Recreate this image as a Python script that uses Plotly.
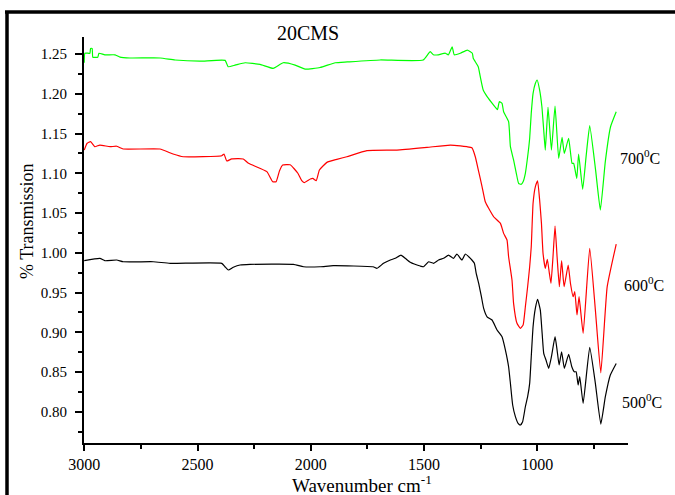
import plotly.graph_objects as go

# 700 C (green)
wn_700 = [3000, 2997, 2975, 2972, 2965, 2962, 2940, 2935, 2909, 2864, 2842, 2798, 2665, 2599, 2489,
          2378, 2365, 2334, 2290, 2224, 2166, 2122, 2069, 2025, 1959, 1892, 1839, 1694, 1504, 1473,
          1459, 1437, 1406, 1393, 1376, 1367, 1340, 1309, 1287, 1283, 1261, 1252, 1239, 1221, 1194,
          1176, 1168, 1156, 1149, 1127, 1119, 1105, 1093, 1083, 1072, 1063, 1053, 1043, 1034, 1027,
          1019, 1009, 1001, 990, 980, 972, 965, 953, 938, 922, 906, 891, 881, 862, 847, 840,
          826, 818, 800, 785, 769, 743, 722, 700, 677, 652]
t_700 = [1.239, 1.251, 1.251, 1.257, 1.257, 1.246, 1.246, 1.251, 1.249, 1.249, 1.246, 1.245, 1.245, 1.2425, 1.241,
         1.242, 1.234, 1.236, 1.239, 1.237, 1.232, 1.239, 1.236, 1.231, 1.233, 1.239, 1.240, 1.2425, 1.2425, 1.253,
         1.249, 1.249, 1.251, 1.249, 1.259, 1.249, 1.251, 1.255, 1.251, 1.2446, 1.234, 1.2215, 1.2047, 1.196, 1.186,
         1.180, 1.190, 1.188, 1.1774, 1.165, 1.1334, 1.1167, 1.100, 1.0874, 1.086, 1.0894, 1.100, 1.1207, 1.144, 1.1754,
         1.2006, 1.213, 1.2173, 1.2047, 1.1837, 1.1544, 1.1292, 1.183, 1.1292, 1.1846, 1.1188, 1.1452, 1.1251, 1.144, 1.1125, 1.1125,
         1.0936, 1.1242, 1.0798, 1.121, 1.1598, 1.104, 1.0537, 1.115, 1.1585, 1.1774]

# 600 C (red)
wn_600 = [3000, 2987, 2972, 2953, 2931, 2886, 2857, 2828, 2666, 2608, 2563, 2393, 2383, 2371, 2349,
          2298, 2275, 2194, 2168, 2153, 2138, 2124, 2091, 2057, 2040, 2029, 2002, 1991, 1976, 1962,
          1929, 1885, 1841, 1752, 1620, 1487, 1384, 1340, 1311, 1289, 1274, 1259, 1244, 1230, 1215,
          1193, 1163, 1149, 1134, 1127, 1112, 1105, 1090, 1075, 1063, 1053, 1043, 1034, 1027, 1019,
          1009, 999, 990, 982, 975, 965, 956, 947, 940, 931, 922, 913, 903, 893, 882,
          864, 854, 842, 835, 825, 816, 798, 769, 744, 720, 692, 652]
t_600 = [1.1292, 1.1377, 1.1397, 1.1334, 1.1355, 1.1334, 1.134, 1.1305, 1.1305, 1.1242, 1.1208, 1.122, 1.1242, 1.1154, 1.118,
         1.118, 1.1125, 1.102, 1.0894, 1.0894, 1.1032, 1.1104, 1.1107, 1.100, 1.0906, 1.0881, 1.0927, 1.0935, 1.0906, 1.1041,
         1.1137, 1.1175, 1.1208, 1.1284, 1.1292, 1.1326, 1.1355, 1.1345, 1.1334, 1.132, 1.1208, 1.102, 1.083, 1.0642, 1.0559,
         1.0453, 1.037, 1.0244, 1.016, 0.995, 0.9657, 0.9364, 0.9112, 0.9049, 0.909, 0.9321, 0.9573, 0.9824, 1.0076, 1.0622,
         1.083, 1.0906, 1.0663, 1.037, 0.9993, 0.9804, 0.9917, 0.9741, 0.9616, 0.995, 1.0336, 0.995, 0.9573, 0.99, 0.9573,
         0.9846, 0.9616, 0.9447, 0.951, 0.9217, 0.9447, 0.8986, 1.0056, 0.928, 0.849, 0.957, 1.011]

# 500 C (black)
wn_500 = [3000, 2931, 2909, 2857, 2828, 2695, 2621, 2393, 2379, 2364, 2342, 2312, 2268, 2077, 2032,
          1959, 1901, 1725, 1708, 1679, 1649, 1627, 1602, 1583, 1561, 1517, 1502, 1480, 1458, 1436,
          1414, 1392, 1370, 1355, 1333, 1318, 1303, 1289, 1278, 1270, 1259, 1247, 1237, 1222, 1200,
          1178, 1156, 1141, 1127, 1119, 1109, 1097, 1085, 1075, 1065, 1053, 1043, 1034, 1027, 1019,
          1009, 999, 987, 979, 972, 962, 950, 938, 922, 913, 904, 893, 881, 862, 848,
          837, 829, 820, 813, 798, 769, 744, 720, 700, 678, 652]
t_500 = [0.990, 0.993, 0.990, 0.9909, 0.9887, 0.9887, 0.9867, 0.9867, 0.9824, 0.9783, 0.9817, 0.9846, 0.9854, 0.9854, 0.9824,
         0.9824, 0.9837, 0.9824, 0.9804, 0.9867, 0.9909, 0.993, 0.9971, 0.993, 0.988, 0.9833, 0.9824, 0.9887, 0.9867, 0.9909,
         0.993, 0.9971, 0.993, 0.9984, 0.9909, 0.9984, 0.9950, 0.9909, 0.9867, 0.974, 0.9616, 0.9447, 0.930, 0.9195, 0.9154,
         0.9028, 0.8944, 0.8776, 0.8566, 0.8357, 0.8085, 0.7938, 0.7854, 0.7833, 0.7875, 0.8063, 0.8189, 0.8357, 0.8692, 0.9069,
         0.930, 0.9414, 0.9279, 0.8987, 0.8735, 0.8651, 0.8546, 0.8692, 0.8944, 0.8776, 0.8588, 0.8755, 0.8546, 0.8722, 0.8566,
         0.8503, 0.8503, 0.8336, 0.8441, 0.8106, 0.8810, 0.8357, 0.7845, 0.8189, 0.8462, 0.8608]

x_ticks = [3000, 2500, 2000, 1500, 1000]
y_ticks = [0.80, 0.85, 0.90, 0.95, 1.00, 1.05, 1.10, 1.15, 1.20, 1.25]

FONT = "Liberation Serif, Times New Roman, serif"

fig = go.Figure()
line_style = dict(width=1.2, shape="spline", smoothing=0.4)
fig.add_trace(go.Scatter(x=wn_700, y=t_700, mode="lines", line=dict(color="#00ff00", **line_style), name="700"))
fig.add_trace(go.Scatter(x=wn_600, y=t_600, mode="lines", line=dict(color="#ff0000", **line_style), name="600"))
fig.add_trace(go.Scatter(x=wn_500, y=t_500, mode="lines", line=dict(color="#000000", **line_style), name="500"))

axis_common = dict(showline=True, linecolor="black", linewidth=2, showgrid=False, zeroline=False,
                   ticks="outside", tickcolor="black", tickwidth=1.5)

fig.update_xaxes(range=[3001, 600], tickvals=x_ticks, ticklen=6, ticklabelstandoff=0,
                 tickfont=dict(family=FONT, size=16, color="black"),
                 minor=dict(dtick=250, ticks="outside", ticklen=4, tickcolor="black", tickwidth=1.5),
                 **axis_common)
fig.update_yaxes(range=[0.7607, 1.2714], tickvals=y_ticks, tickformat=".2f", ticklen=7, ticklabelstandoff=5,
                 tickfont=dict(family=FONT, size=15, color="black"),
                 minor=dict(dtick=0.025, tick0=0.8, ticks="outside", ticklen=4, tickcolor="black", tickwidth=1.5),
                 **axis_common)

def px_x(p):
    return (p - 84) / 544.0

def px_y(p):
    return (443 - p) / 406.0

ann_font = dict(family=FONT, size=16, color="black")
annotations = [
    dict(text="20CMS", x=px_x(308), y=px_y(33), font=dict(family=FONT, size=20, color="black")),
    dict(text="Wavenumber cm<sup>-1</sup>", x=px_x(362), y=px_y(484), font=dict(family=FONT, size=19, color="black")),
    dict(text="% Transmission", x=px_x(27), y=px_y(221), textangle=-90, font=dict(family=FONT, size=18, color="black")),
    dict(text="700<sup>0</sup>C", x=px_x(640), y=px_y(157), font=ann_font),
    dict(text="600<sup>0</sup>C", x=px_x(644), y=px_y(284), font=ann_font),
    dict(text="500<sup>0</sup>C", x=px_x(642), y=px_y(401), font=ann_font),
]
for a in annotations:
    a.update(xref="paper", yref="paper", showarrow=False, xanchor="center", yanchor="middle")

shapes = [
    dict(type="line", xref="paper", yref="paper", x0=px_x(7), x1=px_x(7), y0=px_y(11), y1=px_y(500),
         line=dict(color="black", width=3.5)),
    dict(type="line", xref="paper", yref="paper", x0=px_x(5), x1=px_x(690), y0=px_y(12), y1=px_y(12),
         line=dict(color="black", width=3.5)),
]

fig.update_layout(width=675, height=495, margin=dict(l=84, r=47, t=37, b=52),
                  paper_bgcolor="white", plot_bgcolor="white", showlegend=False,
                  annotations=annotations, shapes=shapes,
                  font=dict(family=FONT, color="black"))

fig.write_html("out.html", config={"displayModeBar": False},
               post_script="document.body.style.margin='0';document.body.style.overflow='hidden';")
